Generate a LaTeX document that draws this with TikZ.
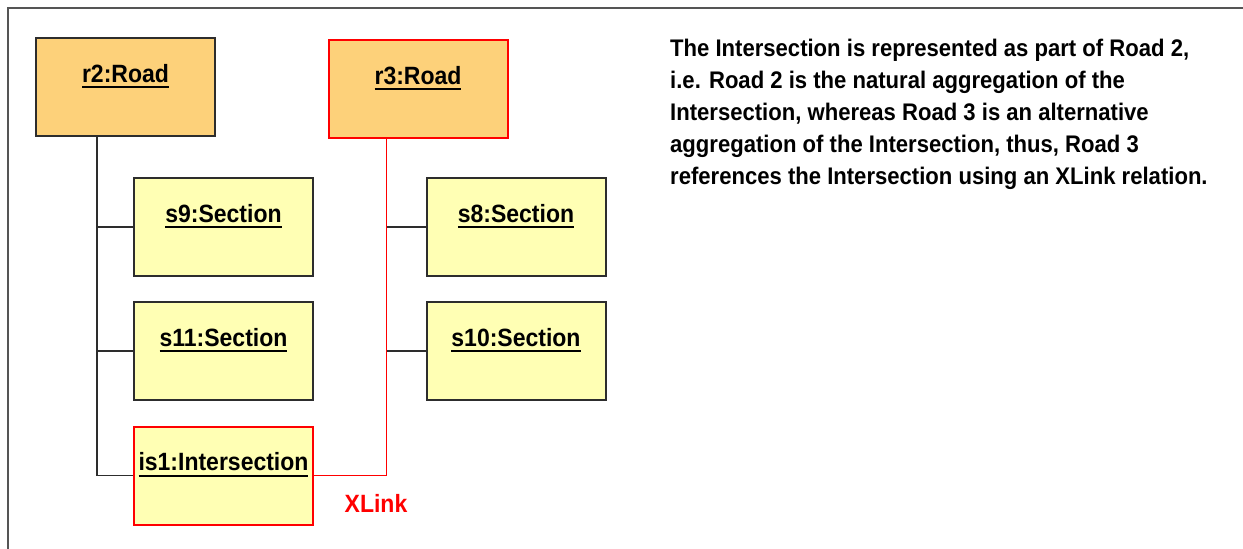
\documentclass[tikz,border=0pt]{standalone}
\usepackage{fontspec}
\setmainfont[FakeStretch=0.92]{Liberation Sans}
\usepackage{tikz}

\definecolor{roadfill}{RGB}{253,209,122}
\definecolor{secfill}{RGB}{255,255,180}
\definecolor{boxline}{RGB}{45,45,45}
\definecolor{frameline}{RGB}{85,85,85}
\definecolor{xlinkred}{RGB}{255,0,0}

% understruket objektnamn
\newcommand{\objname}[1]{\setbox0\hbox{#1}\rlap{\rule[-6pt]{\wd0}{1.8pt}}\box0}

\begin{document}
\begin{tikzpicture}[x=1pt,y=-1pt,
  obj/.style={draw=boxline, line width=2pt, minimum width=179pt,
    inner sep=0pt, text height=44pt, text depth=54pt,
    font=\fontsize{25pt}{28pt}\selectfont\bfseries},
  road/.style={obj, fill=roadfill},
  sect/.style={obj, fill=secfill},
  alt/.style={draw=xlinkred},
  link/.style={boxline, line width=1.8pt},
  xlink/.style={xlinkred, line width=1.8pt}]
  \useasboundingbox (0,0) rectangle (1243,549);
  % Ram
  \draw[frameline, line width=2.2pt] (8,549) -- (8,8) -- (1243,8);
  % Vaegar
  \node[road] (r2) at (125.5,87) {\objname{r2:Road}};
  \node[road,alt] (r3) at (418,89) {\objname{r3:Road}};
  % Sektioner
  \node[sect] (s9) at (223.5,227) {\objname{s9:Section}};
  \node[sect] (s11) at (223.5,351) {\objname{s11:Section}};
  \node[sect,alt] (is1) at (223.5,475.5) {\objname{is1:Intersection}};
  \node[sect] (s8) at (516,227) {\objname{s8:Section}};
  \node[sect] (s10) at (516,351) {\objname{s10:Section}};
  % Aggregering
  \coordinate (t2) at ([xshift=62pt]r2.south west);
  \coordinate (t3) at ([xshift=59pt]r3.south west);
  \draw[link] (t2) |- (is1.west);
  \draw[link] (s9.west) -- (s9.west -| t2);
  \draw[link] (s11.west) -- (s11.west -| t2);
  \draw[link] (s8.west) -- (s8.west -| t3);
  \draw[link] (s10.west) -- (s10.west -| t3);
  % XLink
  \draw[xlink] (t3) |- (is1.east);
  \node[text=xlinkred, font=\fontsize{25pt}{28pt}\selectfont\bfseries] (xl) at (376,503) {XLink};
  % Text
  \node[anchor=north west, align=left, inner sep=0pt,
    font=\fontsize{24pt}{32pt}\selectfont\bfseries] (note) at (670,39)
    {The Intersection is represented as part of Road 2,\\
     i.e. Road 2 is the natural aggregation of the\\
     Intersection, whereas Road 3 is an alternative\\
     aggregation of the Intersection, thus, Road 3\\
     references the Intersection using an XLink relation.};
\end{tikzpicture}
\end{document}
